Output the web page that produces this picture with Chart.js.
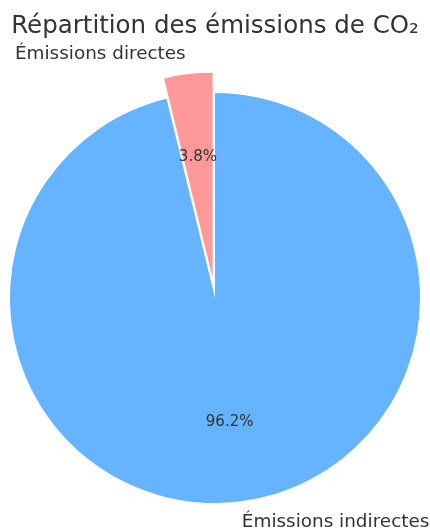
<!DOCTYPE html>
<html lang="fr">
<head>
<meta charset="utf-8">
<title>Répartition des émissions de CO₂</title>
<script src="https://cdn.jsdelivr.net/npm/chart.js@4/dist/chart.umd.min.js"></script>
<style>
  html, body { margin: 0; padding: 0; background: #ffffff; }
  canvas { display: block; }
</style>
</head>
<body>
<canvas id="pie" width="430" height="528"></canvas>
<script>
// Emission sources and their share of the total (percent)
const categories = ['Émissions directes', 'Émissions indirectes'];
const shares = [3.8, 96.2];
const sliceColors = ['#ff9999', '#66b3ff'];
// Fraction of the radius by which each slice is pulled out
const explode = [0.1, 0];
const chartTitle = 'Répartition des émissions de CO₂';

const PIE_RADIUS = 205;
const TEXT_COLOR = '#333333';
const FONT = '"DejaVu Sans", sans-serif';

const total = shares.reduce((a, b) => a + b, 0);
// First slice ends at 12 o'clock, the rest runs on clockwise from there
const startRotation = -360 * shares[0] / total;

// Pull exploded slices outward along their bisector
const explodePlugin = {
  id: 'explodeSlices',
  afterDatasetsUpdate(chart) {
    const meta = chart.getDatasetMeta(0);
    meta.data.forEach((arc, i) => {
      const mid = (arc.startAngle + arc.endAngle) / 2;
      const d = (explode[i] || 0) * arc.outerRadius;
      arc.x += Math.cos(mid) * d;
      arc.y += Math.sin(mid) * d;
    });
  }
};

// Title, category labels outside the pie and percentages inside
const labelPlugin = {
  id: 'pieLabels',
  afterDraw(chart) {
    const ctx = chart.ctx;
    const meta = chart.getDatasetMeta(0);
    ctx.save();
    ctx.fillStyle = TEXT_COLOR;

    ctx.font = '24.5px ' + FONT;
    ctx.textAlign = 'center';
    ctx.textBaseline = 'alphabetic';
    ctx.fillText(chartTitle, chart.width / 2, 33);

    meta.data.forEach((arc, i) => {
      const mid = (arc.startAngle + arc.endAngle) / 2;
      const r = arc.outerRadius;
      const cx = Math.cos(mid), cy = Math.sin(mid);

      ctx.font = '18.4px ' + FONT;
      ctx.textBaseline = 'middle';
      ctx.textAlign = cx < 0 ? 'right' : 'left';
      ctx.fillText(categories[i], arc.x + cx * r * 1.1, arc.y + cy * r * 1.1);

      ctx.font = '15px ' + FONT;
      ctx.textAlign = 'center';
      const pct = (100 * shares[i] / total).toFixed(1) + '%';
      ctx.fillText(pct, arc.x + cx * r * 0.6, arc.y + cy * r * 0.6 + 2);
    });
    ctx.restore();
  }
};

new Chart(document.getElementById('pie'), {
  type: 'pie',
  data: {
    labels: categories,
    datasets: [{
      data: shares,
      backgroundColor: sliceColors,
      borderWidth: 0
    }]
  },
  options: {
    responsive: false,
    animation: false,
    radius: PIE_RADIUS,
    rotation: startRotation,
    layout: { padding: { top: 78, bottom: 10, left: 0, right: 0 } },
    plugins: {
      legend: { display: false },
      title: { display: false },
      tooltip: { enabled: false }
    }
  },
  plugins: [explodePlugin, labelPlugin]
});
</script>
</body>
</html>
